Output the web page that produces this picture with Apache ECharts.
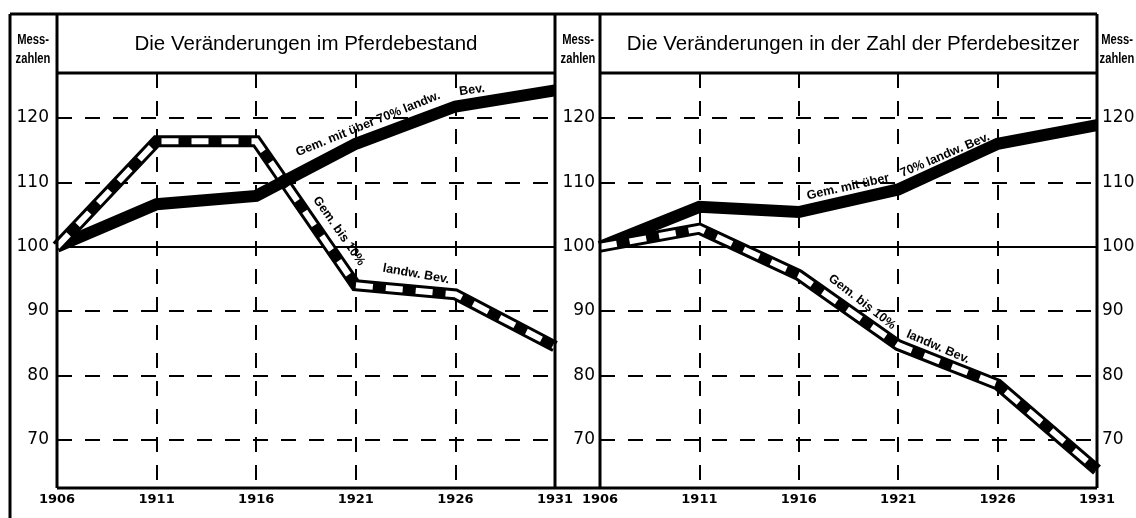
<!DOCTYPE html>
<html>
<head>
<meta charset="utf-8">
<title>Pferdebestand und Pferdebesitzer</title>
<script src="https://cdn.jsdelivr.net/npm/echarts@6/dist/echarts.min.js"></script>
<style>
  html, body { margin: 0; padding: 0; background: #fff; }
  #chart { width: 1136px; height: 518px; }
</style>
</head>
<body>
<div id="chart"></div>
<script>
// x axis: years (both panels)
const years = ['1906', '1911', '1916', '1921', '1926', '1931'];
// y axis tick labels (Messzahlen)
const yTicks = [70, 80, 90, 100, 110, 120];

// left panel: Pferdebestand (1906 = 100)
const bestandUeber70 = [100, 106.6, 107.9, 116.0, 121.8, 124.3];
const bestandBis10 = [100, 116.4, 116.4, 94.0, 92.6, 84.5];

// right panel: Zahl der Pferdebesitzer (1906 = 100)
const besitzerUeber70 = [100, 106.2, 105.4, 108.9, 116.0, 118.9];
const besitzerBis10 = [100, 102.8, 95.6, 84.7, 78.6, 65.3];

const titles = ['Die Veränderungen im Pferdebestand', 'Die Veränderungen in der Zahl der Pferdebesitzer'];

const chart = echarts.init(document.getElementById('chart'));

const gridDash = [15, 13];
const labelFont = 'DejaVu Sans';

function yAxisFor(gridIndex, position, showSplit, margin) {
    return {
        type: 'value',
        gridIndex: gridIndex,
        position: position,
        min: 62.5,
        max: 127,
        axisLine: { show: false },
        axisTick: { show: false, customValues: yTicks },
        axisLabel: {
            customValues: yTicks,
            color: '#000',
            fontFamily: labelFont,
            fontSize: 17,
            margin: margin
        },
        splitLine: {
            show: showSplit,
            lineStyle: { color: '#000', width: 2, type: gridDash }
        }
    };
}

function xAxisFor(gridIndex) {
    return {
        type: 'category',
        gridIndex: gridIndex,
        data: years,
        boundaryGap: false,
        axisLine: { show: false },
        axisTick: { show: false },
        axisLabel: {
            color: '#000',
            fontFamily: labelFont,
            fontWeight: 'bold',
            fontSize: 13,
            margin: 5,
            interval: 0
        },
        splitLine: {
            show: true,
            interval: 0,
            lineStyle: { color: '#000', width: 2, type: gridDash }
        }
    };
}

function seriesFor(gridIndex, ueber70, bis10) {
    return [
        {
            type: 'line',
            xAxisIndex: gridIndex,
            yAxisIndex: gridIndex,
            data: ueber70,
            symbol: 'none',
            lineStyle: { color: '#000', width: 12, join: 'miter' },
            z: 3,
            markLine: {
                silent: true,
                symbol: 'none',
                label: { show: false },
                lineStyle: { color: '#000', width: 2, type: 'solid' },
                data: [{ yAxis: 100 }]
            }
        },
        {
            type: 'line',
            xAxisIndex: gridIndex,
            yAxisIndex: gridIndex,
            data: bis10,
            symbol: 'none',
            lineStyle: { color: '#000', width: 12, join: 'miter' },
            z: 4
        },
        {
            type: 'line',
            xAxisIndex: gridIndex,
            yAxisIndex: gridIndex,
            data: bis10,
            symbol: 'none',
            lineStyle: { color: '#fff', width: 6, type: [17, 13], cap: 'butt', join: 'miter' },
            z: 5
        }
    ];
}

// frame pieces
function seg(x1, y1, x2, y2, w) {
    return {
        type: 'line',
        z: 100,
        shape: { x1: x1, y1: y1, x2: x2, y2: y2 },
        style: { stroke: '#000', lineWidth: w || 3 }
    };
}

function txt(x, y, text, font, deg, sx) {
    return {
        type: 'text',
        z: 101,
        x: x,
        y: y,
        scaleX: sx || 1,
        rotation: (deg || 0) * Math.PI / 180,
        style: { text: text, font: font, fill: '#000', align: 'center', verticalAlign: 'middle' }
    };
}

const messFont = 'bold 14px "Liberation Sans"';
const titleFont = '20.5px "Liberation Sans"';
const lineFont = 'bold 12.5px "Liberation Sans"';

chart.setOption({
    backgroundColor: '#fff',
    animation: false,
    grid: [
        { left: 57, right: 581, top: 73, bottom: 30, outerBoundsMode: 'none' },
        { left: 600, right: 39, top: 73, bottom: 30, outerBoundsMode: 'none' }
    ],
    xAxis: [xAxisFor(0), xAxisFor(1)],
    yAxis: [
        yAxisFor(0, 'left', true, 8),
        yAxisFor(1, 'left', true, 5),
        yAxisFor(1, 'right', false, 5)
    ],
    series: [].concat(
        seriesFor(0, bestandUeber70, bestandBis10),
        seriesFor(1, besitzerUeber70, besitzerBis10)
    ),
    graphic: [
        seg(10, 14, 1097, 14),
        seg(10, 14, 10, 518),
        seg(57, 14, 57, 488),
        seg(555, 14, 555, 488),
        seg(600, 14, 600, 488),
        seg(1097, 14, 1097, 488),
        seg(57, 73, 555, 73),
        seg(600, 73, 1097, 73),
        seg(57, 488, 1097, 488),
        txt(306, 44, titles[0], titleFont),
        txt(853, 44, titles[1], titleFont),
        txt(33, 40, 'Mess-', messFont, 0, 0.8),
        txt(33, 59, 'zahlen', messFont, 0, 0.8),
        txt(578, 40, 'Mess-', messFont, 0, 0.8),
        txt(578, 59, 'zahlen', messFont, 0, 0.8),
        txt(1117, 40, 'Mess-', messFont, 0, 0.8),
        txt(1117, 59, 'zahlen', messFont, 0, 0.8),
        // labels along the lines, left panel
        txt(368, 124, 'Gem. mit über 70% landw.', lineFont, 22),
        txt(472, 90, 'Bev.', lineFont, 8),
        txt(339, 231, 'Gem. bis 10%', lineFont, -55),
        txt(416, 274, 'landw. Bev.', lineFont, -10),
        // labels along the lines, right panel
        txt(848, 187, 'Gem. mit über', lineFont, 12.5),
        txt(945, 155, '70% landw. Bev.', lineFont, 23),
        txt(862, 302, 'Gem. bis 10%', lineFont, -38),
        txt(938, 347, 'landw. Bev.', lineFont, -23)
    ]
});
</script>
</body>
</html>
